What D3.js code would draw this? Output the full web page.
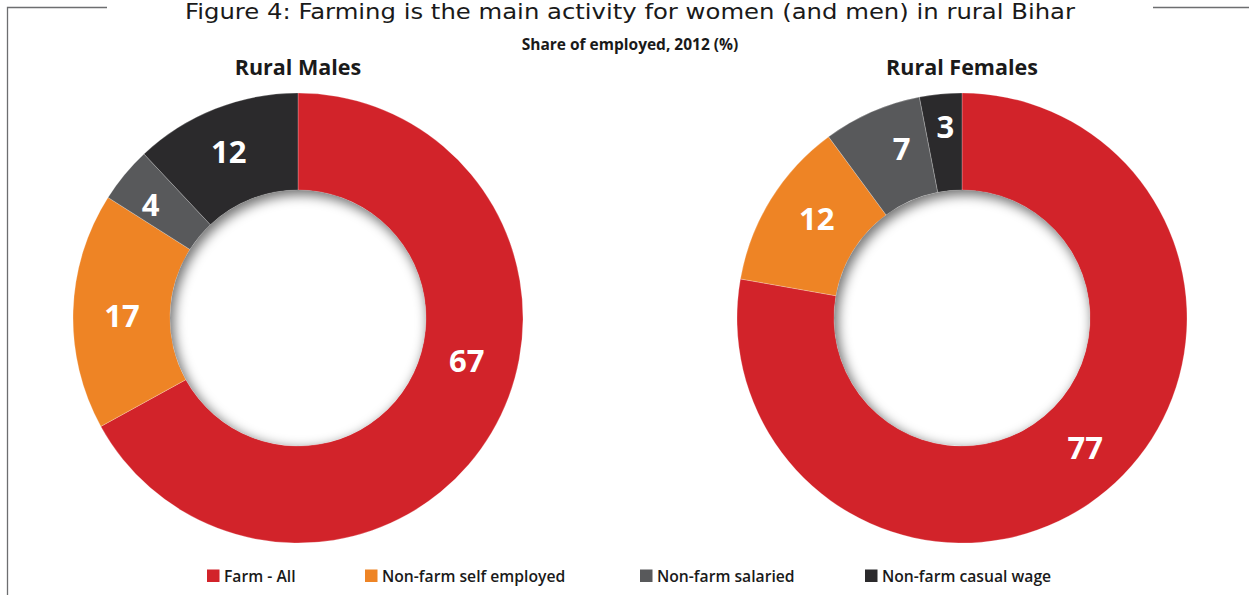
<!DOCTYPE html>
<html><head><meta charset="utf-8">
<script src="https://cdn.jsdelivr.net/npm/d3@7"></script>
<style>
html,body{margin:0;padding:0;background:#fff;}
svg{display:block;}
</style></head>
<body>
<svg id="chart" width="1249" height="595"></svg>
<script>
const categories = ["Farm - All", "Non-farm self employed", "Non-farm salaried", "Non-farm casual wage"];
const maleValues = [67, 17, 4, 12];
const femaleValues = [77, 12, 7, 3];
const panelTitles = ["Rural Males", "Rural Females"];
const colors = ["#D2232A", "#EE8425", "#58595B", "#2B2A2C"];
const titleText = "Figure 4: Farming is the main activity for women (and men) in rural Bihar";
const subtitleText = "Share of employed, 2012 (%)";

// layout: label angle nudges (degrees) and radii per slice
const labelAngleNudge = [[-16.5, -1, -2, -1], [-3.5, 2.5, 4, 0.5]];
const labelRadius = [[174, 176, 186, 180], [179, 176, 180, 192]];

const svg = d3.select("#chart");

// frame lines
svg.append("path").attr("d","M107,7.5H7.5V595").attr("fill","none").attr("stroke","#6d6e70").attr("stroke-width",1.3);
svg.append("path").attr("d","M1153,7.5H1249").attr("fill","none").attr("stroke","#6d6e70").attr("stroke-width",1.3);

svg.append("text").attr("x",185).attr("y",19)
  .attr("textLength",890).attr("lengthAdjust","spacingAndGlyphs")
  .attr("font-family","'DejaVu Sans', sans-serif").attr("font-size",21).attr("fill","#1a1a1a")
  .text(titleText);
svg.append("text").attr("x",630).attr("y",49.5).attr("text-anchor","middle")
  .attr("font-family","'Open Sans', sans-serif").attr("font-weight",700).attr("font-size",15.5).attr("fill","#1a1a1a")
  .text(subtitleText);

const defs = svg.append("defs");
const blur = defs.append("filter").attr("id","blur").attr("x","-20%").attr("y","-20%").attr("width","140%").attr("height","140%");
blur.append("feGaussianBlur").attr("stdDeviation",6);

const outerR = 225, innerR = 128;
const centers = [[298,318],[962,318]];
const datasets = [maleValues, femaleValues];

const pie = d3.pie().sort(null).value(d => d);
const arc = d3.arc().innerRadius(innerR).outerRadius(outerR);

datasets.forEach((vals, i) => {
  const [cx, cy] = centers[i];
  const g = svg.append("g").attr("transform", `translate(${cx},${cy})`);
  const arcs = pie(vals);
  g.selectAll("path.slice").data(arcs).enter().append("path")
    .attr("class","slice")
    .attr("d", arc)
    .attr("fill", (d, j) => colors[j])
    .attr("stroke","#ffffff").attr("stroke-width",0.4).attr("stroke-opacity",0.6);

  // inner shadow on the hole
  const cid = "clip" + i;
  defs.append("clipPath").attr("id", cid).append("circle").attr("r", innerR);
  const sg = g.append("g").attr("clip-path", `url(#${cid})`);
  sg.append("circle").attr("r", innerR).attr("fill","#fff");
  sg.append("circle").attr("cx",3).attr("cy",4).attr("r", innerR + 9)
    .attr("fill","none").attr("stroke","#000").attr("stroke-opacity",0.55).attr("stroke-width",20)
    .attr("filter","url(#blur)");

  g.selectAll("text.lbl").data(arcs).enter().append("text")
    .attr("class","lbl")
    .attr("transform", (d, j) => {
      const mid = (d.startAngle + d.endAngle) / 2 + labelAngleNudge[i][j] * Math.PI / 180;
      const r = labelRadius[i][j];
      const la = d3.arc().innerRadius(r).outerRadius(r).startAngle(mid).endAngle(mid);
      return `translate(${la.centroid()})`;
    })
    .attr("text-anchor","middle").attr("dy","0.36em")
    .attr("font-family","'Open Sans', sans-serif").attr("font-weight",700).attr("font-size",31)
    .attr("fill","#fff")
    .text(d => d.data);

  svg.append("text").attr("x", cx).attr("y", 75).attr("text-anchor","middle")
    .attr("font-family","'Open Sans', sans-serif").attr("font-weight",700).attr("font-size",21.5)
    .attr("fill","#1a1a1a").text(panelTitles[i]);
});

// legend
const legendX = [207, 365, 640, 865];
const lg = svg.append("g");
categories.forEach((c, j) => {
  lg.append("rect").attr("x", legendX[j]).attr("y", 569.5).attr("width", 12.5).attr("height", 12.5).attr("fill", colors[j]);
  lg.append("text").attr("x", legendX[j] + 17).attr("y", 582)
    .attr("font-family","'Open Sans', sans-serif").attr("font-weight",600).attr("font-size",15.7)
    .attr("fill","#1a1a1a").text(c);
});
</script>
</body></html>
